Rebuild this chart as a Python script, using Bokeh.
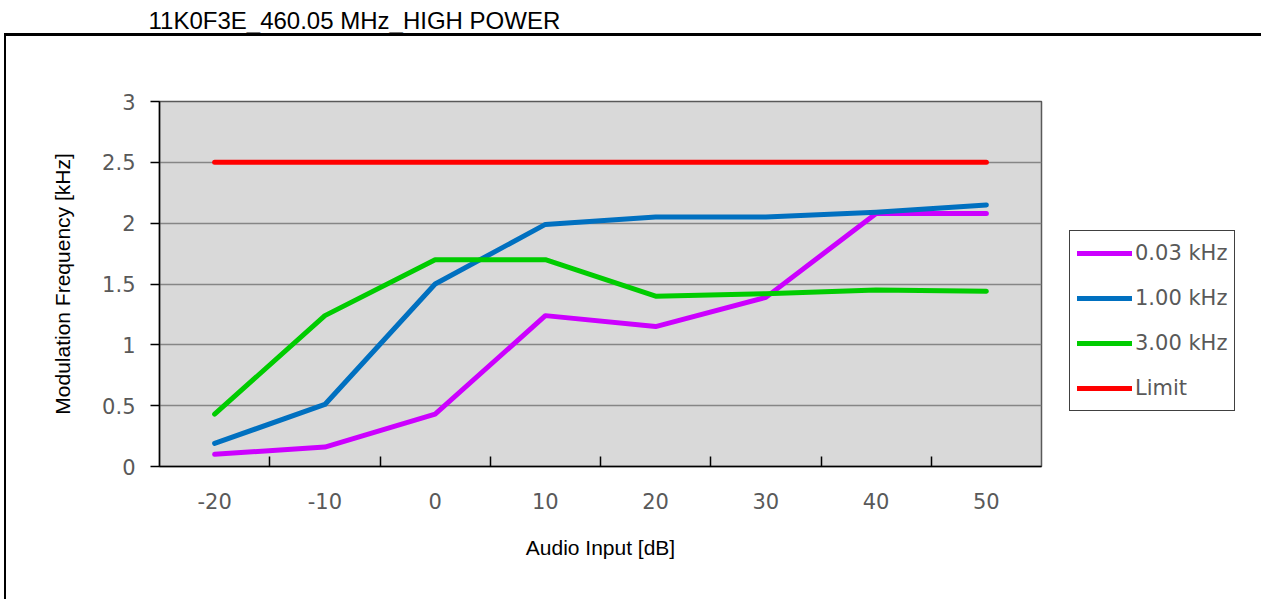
from bokeh.plotting import figure
from bokeh.layouts import row
from bokeh.models import (Range1d, FixedTicker, CustomJSTickFormatter, Legend,
                          LegendItem, InlineStyleSheet, Title)
from bokeh.embed import file_html
from bokeh.resources import INLINE

# ---------------- data ----------------
chart_title = "11K0F3E_460.05 MHz_HIGH POWER"
x_title = "Audio Input [dB]"
y_title = "Modulation Frequency [kHz]"

audio_input = [-20, -10, 0, 10, 20, 30, 40, 50]
x_labels = ["-20", "-10", "0", "10", "20", "30", "40", "50"]

series_names = ["0.03 kHz", "1.00 kHz", "3.00 kHz", "Limit"]
mod_003 = [0.10, 0.16, 0.43, 1.24, 1.15, 1.39, 2.08, 2.08]
mod_100 = [0.19, 0.51, 1.50, 1.99, 2.05, 2.05, 2.09, 2.15]
mod_300 = [0.43, 1.24, 1.70, 1.70, 1.40, 1.42, 1.45, 1.44]
limit = [2.5, 2.5, 2.5, 2.5, 2.5, 2.5, 2.5, 2.5]
series_colors = ["#CC00FF", "#0070C0", "#00CC00", "#FF0000"]
series_values = [mod_003, mod_100, mod_300, limit]

y_ticks = [0, 0.5, 1, 1.5, 2, 2.5, 3]

# outer chart-area border (top and left edges; the rest runs past the window)
border_css = InlineStyleSheet(css="""
:host { position: relative; }
:host::after {
  content: ""; position: absolute; pointer-events: none;
  left: 4px; top: 33px; right: 0px; bottom: 0px;
  border-top: 3px solid #000000; border-left: 2px solid #000000;
}
""")

# ---------------- main chart ----------------
p = figure(width=1050, height=599, output_backend="svg", toolbar_location=None,
           x_range=Range1d(-25, 55), y_range=Range1d(0, 3),
           min_border_left=159, min_border_right=9,
           min_border_top=101, min_border_bottom=133)
p.background_fill_color = "#D9D9D9"
p.border_fill_color = "white"
p.outline_line_color = "#595959"
p.outline_line_width = 1.5

# spacer between frame and chart title, then the chart title itself
p.add_layout(Title(text=" ", text_font_size="10px", standoff=55), "above")
p.add_layout(Title(text=chart_title, align="left", offset=-11, standoff=0,
                   vertical_align="bottom", text_font="Liberation Sans",
                   text_font_size="24px", text_font_style="normal",
                   text_color="#000000"), "above")

# x axis: labels at category centres, small inward ticks at boundaries
bounds = [(audio_input[i] + audio_input[i + 1]) / 2 for i in range(len(audio_input) - 1)]
p.xaxis.ticker = FixedTicker(ticks=audio_input, minor_ticks=bounds)
p.xaxis.major_label_overrides = {v: s for v, s in zip(audio_input, x_labels)}
p.xaxis.major_tick_in = 0
p.xaxis.major_tick_out = 0
p.xaxis.minor_tick_in = 10
p.xaxis.minor_tick_out = 0
p.xaxis.minor_tick_line_color = "#000000"
p.xaxis.minor_tick_line_width = 1.5
p.xaxis.axis_line_color = "#000000"
p.xaxis.axis_line_width = 1.5
p.xaxis.major_label_standoff = 26
p.xaxis.axis_label = x_title
p.xaxis.axis_label_standoff = 24

# y axis
p.yaxis.ticker = FixedTicker(ticks=y_ticks)
p.yaxis.formatter = CustomJSTickFormatter(code="return String(tick)")
p.yaxis.major_tick_in = 0
p.yaxis.major_tick_out = 9
p.yaxis.major_tick_line_color = "#000000"
p.yaxis.major_tick_line_width = 1.5
p.yaxis.minor_tick_line_color = None
p.yaxis.axis_line_color = "#000000"
p.yaxis.axis_line_width = 1.5
p.yaxis.major_label_standoff = 15
p.yaxis.axis_label = y_title
p.yaxis.axis_label_standoff = 25

for ax in (p.xaxis, p.yaxis):
    ax.major_label_text_font = "DejaVu Sans"
    ax.major_label_text_font_size = "21px"
    ax.major_label_text_color = "#595959"
    ax.axis_label_text_font = "Liberation Sans"
    ax.axis_label_text_font_size = "21px"
    ax.axis_label_text_font_style = "normal"
    ax.axis_label_text_color = "#000000"

p.xgrid.grid_line_color = None
p.ygrid.ticker = FixedTicker(ticks=y_ticks)
p.ygrid.grid_line_color = "#868686"
p.ygrid.grid_line_width = 1.5

for ys, c in zip(series_values, series_colors):
    p.line(audio_input, ys, line_color=c, line_width=5,
           line_cap="round", line_join="round")

# ---------------- legend panel (right of the chart) ----------------
# its view range lies outside the data, so only the legend entries show here
q = figure(width=211, height=599, output_backend="svg", toolbar_location=None,
           x_range=Range1d(100, 101), y_range=Range1d(0, 3),
           min_border_left=0, min_border_right=0,
           min_border_top=0, min_border_bottom=0)
q.axis.visible = False
q.grid.visible = False
q.outline_line_color = None
q.background_fill_color = "white"
q.border_fill_color = "white"

legend_renderers = []
for ys, c in zip(series_values, series_colors):
    legend_renderers.append(q.line(audio_input, ys, line_color=c, line_width=5,
                                   line_cap="round", line_join="round"))

legend = Legend(items=[LegendItem(label=n, renderers=[r])
                       for n, r in zip(series_names, legend_renderers)],
                location=(19, 55), orientation="vertical",
                border_line_color="#404040", border_line_width=1.5,
                border_line_alpha=1.0,
                background_fill_color="white", background_fill_alpha=1.0,
                label_text_font="DejaVu Sans", label_text_font_size="21px",
                label_text_color="#595959",
                glyph_width=55, glyph_height=30, label_height=30,
                spacing=15, padding=7, label_standoff=3, margin=0)
q.add_layout(legend, "center")

layout = row(p, q, stylesheets=[border_css])

open("out.html", "w").write(file_html(layout, INLINE))
